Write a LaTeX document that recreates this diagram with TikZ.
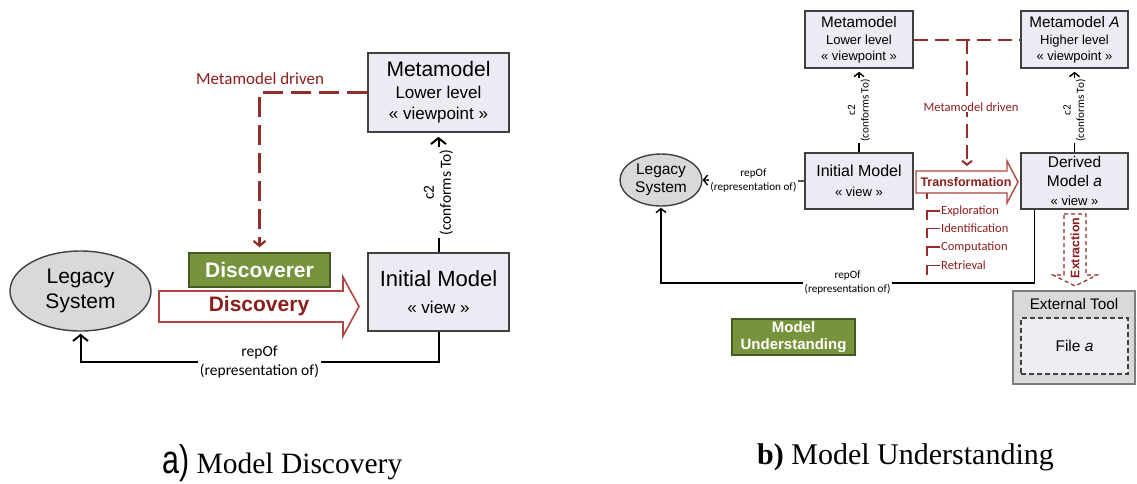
\documentclass[tikz,border=0pt]{standalone}
\usepackage{graphicx}
\usepackage{fontspec}
\setmainfont{Liberation Sans}
\newfontfamily\calib{Carlito}
\newfontfamily\capfont{Liberation Serif}
\newfontfamily\arialfont{Liberation Sans}
\usetikzlibrary{arrows.meta,calc,shapes.geometric}

\definecolor{boxfill}{RGB}{236,234,242}
\definecolor{boxline}{RGB}{64,64,64}
\definecolor{ellfill}{RGB}{217,217,217}
\definecolor{grnfill}{RGB}{119,147,60}
\definecolor{grnline}{RGB}{70,88,36}
\definecolor{dred}{RGB}{140,30,28}
\definecolor{dline}{RGB}{150,45,42}
\definecolor{aline}{RGB}{175,70,65}
\definecolor{toolfill}{RGB}{217,217,217}
\definecolor{toolline}{RGB}{125,125,125}
\definecolor{filefill}{RGB}{238,236,242}

\newcommand{\fs}[2]{\fontsize{#1}{#2}\selectfont}

\begin{document}
\begin{tikzpicture}[x=1pt,y=-1pt,
  every node/.style={inner sep=0pt},
  mbox/.style={draw=boxline, fill=boxfill, line width=1.6pt, align=center, text=black},
  ell/.style={ellipse, draw=boxline, fill=ellfill, line width=1.4pt, align=center},
  grn/.style={draw=grnline, fill=grnfill, line width=1.4pt, text=white, align=center},
  bigarrow/.style={draw=aline, fill=white, line width=1.6pt, line join=miter},
  conL/.style={draw=black, line width=2pt, -{Straight Barb[length=6pt,width=15pt]}},
  conR/.style={draw=black, line width=1.4pt, -{Straight Barb[length=4pt,width=10pt]}},
  mdrL/.style={draw=dline, line width=2.2pt, dash pattern=on 20pt off 8pt, -{Straight Barb[length=5pt,width=12pt]}},
  mdrR/.style={draw=dline, line width=2pt, dash pattern=on 14pt off 7pt},
  lblL/.style={fill=white, inner sep=2pt, align=center, font=\calib\fs{15.5}{19}},
  lblR/.style={fill=white, inner sep=1.5pt, align=center, font=\calib\fs{11.2}{13.5}},
  redlbl/.style={text=dred, font=\calib\fs{12.5}{14}},
  tree/.style={draw=dline, line width=1.6pt}
]
\useasboundingbox (0,0) rectangle (1137,483);

% ---------------- a) Model Discovery ----------------
\node[mbox, minimum width=141pt, minimum height=79pt, font=\fs{17}{21}] (mmL) at (438.5,92.5)
  {{\fs{21}{21}Metamodel}\\[1pt] Lower level\\ « viewpoint »};
\node[mbox, minimum width=141pt, minimum height=78pt, font=\fs{17}{27}] (imL) at (438.5,292)
  {{\fs{22}{22}Initial Model}\\ « view »};
\node[ell, minimum width=141pt, minimum height=80pt, font=\fs{21}{25}] (legL) at (80.5,291)
  {Legacy\\System};
\node[grn, minimum width=141pt, minimum height=34pt, font=\bfseries\fs{21}{21}] (disc) at (259.5,270)
  {Discoverer};

% the Discovery block arrow
\draw[bigarrow] (159,291) -- (343,291) -- (343,277) -- (359,306.5) -- (343,336)
  -- (343,322) -- (159,322) -- cycle;
\node[text=dred, font=\bfseries\fs{21}{21}] (discovery) at (259,306.5) {Discovery};

% metamodel driven
\node[text=dred, font=\calib\fs{17}{17}] (mdL) at (260,79) {Metamodel driven};
\draw[mdrL, shorten >=5pt] (mmL.west) -| (disc.north);

% conformance and representation links
\draw[conL, shorten >=4pt] (imL.north) -- node[lblL, rotate=90, fill=white, font=\calib\fs{15.5}{17}] (c2L) {c2\\(conforms To)} (mmL.south);
\draw[conL, shorten >=2pt] (imL.south) -- ++(0,30) -| node[pos=0.25, lblL] (repL) {repOf\\(representation of)} (legL.south);

% ---------------- b) Model Understanding ----------------
\node[mbox, minimum width=108pt, minimum height=57pt, font=\fs{13}{16}] (mmR1) at (859,39.5)
  {{\fs{15.3}{15.3}Metamodel}\\[1pt] Lower level\\ « viewpoint »};
\node[mbox, minimum width=107pt, minimum height=57pt, font=\fs{13}{16}] (mmR2) at (1074.5,39.5)
  {{\fs{15.3}{15.3}Metamodel \textit{A}}\\[1pt] Higher level\\ « viewpoint »};
\node[mbox, minimum width=108pt, minimum height=56pt, font=\fs{13}{20}] (imR) at (859,181)
  {{\fs{16}{16}Initial Model}\\ « view »};
\node[mbox, minimum width=107pt, minimum height=56pt, font=\fs{15.5}{19}] (dmR) at (1074.5,181)
  {Derived\\ Model \textit{a}\\ {\fs{13}{13}« view »}};
\node[ell, minimum width=82pt, minimum height=52pt, font=\fs{15.5}{18}] (legR) at (661,180)
  {Legacy\\System};

% conformance links
\draw[conR, shorten >=3pt] (imR.north) -- node[lblR, rotate=90] (c2R1) {c2\\(conforms To)} (mmR1.south);
\draw[conR, shorten >=3pt] (dmR.north) -- node[lblR, rotate=90] (c2R2) {c2\\(conforms To)} (mmR2.south);

% representation links
\draw[conR] (imR.west) -- node[lblR] (repR1) {repOf\\(representation of)} (legR.east);
\coordinate (dmOut) at ($(dmR.south west)+(14,0)$);
\draw[conR, shorten >=1pt] (dmOut) -- ++(0,73) -| node[pos=0.25, lblR] (repR2) {repOf\\(representation of)} (legR.south);

% metamodel driven
\draw[mdrR] (mmR1.east) -- (mmR2.west);
\coordinate (mdJoin) at (967,39.5);
\coordinate (trTop) at (967,166);
\draw[mdrR, -{Straight Barb[length=4pt,width=10pt]}] (mdJoin) -- (trTop);
\node[text=dred, fill=white, inner sep=1pt, font=\calib\fs{12.6}{13}] (mdR) at (971,107) {Metamodel driven};

% the Transformation block arrow
\draw[bigarrow, line width=1.4pt] (916,171) -- (1007,171) -- (1007,161) -- (1018,182) -- (1007,203)
  -- (1007,193) -- (916,193) -- cycle;
\node[text=dred, font=\bfseries\fs{12.5}{12.5}] (trans) at (966,182) {Transformation};

% transformation steps
\draw[tree] (927,193) -- (927,199);
\foreach \yy/\nm/\txt in {211/ex/Exploration, 228.5/id/Identification, 247/co/Computation, 265.5/re/Retrieval}{
  \draw[tree] (927,\yy+9) -- (927,\yy) -- (940,\yy);
  \node[redlbl, anchor=west] (\nm) at (941,\yy) {\txt};
}

% the Extraction block arrow
\draw[draw=dline, line width=1.3pt, dash pattern=on 4pt off 3pt, fill=white]
  (1064,214) -- (1086,214) -- (1086,275) -- (1097,275) -- (1075,286) -- (1053,275)
  -- (1064,275) -- cycle;
\node[text=dred, rotate=90, font=\bfseries\fs{12.3}{12.3}] (extr) at (1075,248) {Extraction};

% external tool
\node[draw=toolline, fill=toolfill, line width=2.5pt, minimum width=122pt, minimum height=93pt] (tool) at (1074,337.5) {};
\node[font=\fs{15.3}{15.3}] (toolT) at (1074,304) {External Tool};
\node[draw=boxline, fill=filefill, line width=1.2pt, dash pattern=on 5pt off 3pt,
  minimum width=107pt, minimum height=56pt, font=\fs{15.5}{15.5}] (file) at (1074.5,346) {File \textit{a}};

% stage label
\node[grn, minimum width=123pt, minimum height=36pt, font=\bfseries\fs{15}{17}] (mu) at (793.5,337)
  {Model\\Understanding};

% ---------------- captions ----------------
\node[anchor=base west, font=\capfont\fs{29.5}{30}] (capA) at (162,473)
  {\scalebox{0.8}[1.05]{\arialfont\fs{38}{38}a)} Model Discovery};
\node[anchor=base west, font=\capfont\fs{30}{30}] (capB) at (757,464)
  {\textbf{b)} Model Understanding};
\end{tikzpicture}
\end{document}
